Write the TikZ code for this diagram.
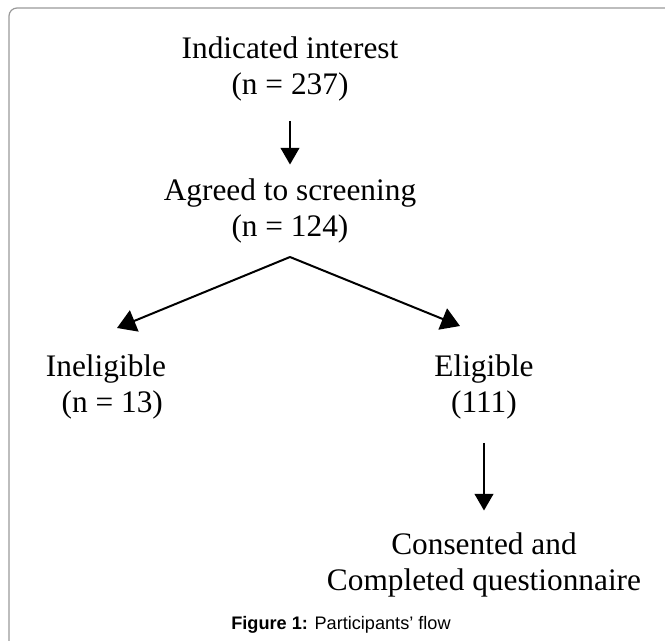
\documentclass[tikz,border=0pt]{standalone}
\usepackage{fontspec}
\setmainfont{Liberation Serif}
\newfontfamily\capfont{Liberation Sans}
\usetikzlibrary{arrows.meta}
\tikzset{
  stage/.style={align=center, inner sep=0pt, font=\fontsize{23.5}{27}\selectfont},
  flow/.style={line width=1.5pt, -{Triangle[width=14pt,length=12.5pt]}},
  branch/.style={line width=1.5pt, -{Triangle[width=17pt,length=14pt]}},
}
\begin{document}
\begin{tikzpicture}[x=0.75pt,y=-0.75pt]
      \useasboundingbox (0,0) rectangle (665,640);
      \clip (0,0) rectangle (665,640);
      \draw[black!40, line width=0.9pt, rounded corners=6pt] (9,8) rectangle (700,700);
      \draw
        (290,69) node[stage] (interest){Indicated interest\\(n = 237)}
        (290,211) node[stage] (agreed){Agreed to screening\\(n = 124)}
        (106,387) node[stage] (inelig){Ineligible\\\hspace*{0.4em}(n = 13)}
        (484,387) node[stage] (elig){Eligible\\(111)}
        (484,565) node[stage] (consent){Consented and\\Completed questionnaire}
        (341,629) node[anchor=base, font=\capfont\fontsize{13.6}{16}\selectfont] (caption){\textbf{Figure 1:} Participants’ flow};
      \coordinate (split) at (290,257);
      \coordinate (leftend) at (117,328);
      \coordinate (rightend) at (460,326);
      \begin{scope}[flow]
        \draw[shorten <=14.5pt, shorten >=10.5pt] (interest) to (agreed);
        \draw[branch] (split) to (leftend);
        \draw[branch] (split) to (rightend);
        \draw[shorten <=17.5pt, shorten >=16.5pt] (elig) to (consent);
      \end{scope}
    \end{tikzpicture}
\end{document}
